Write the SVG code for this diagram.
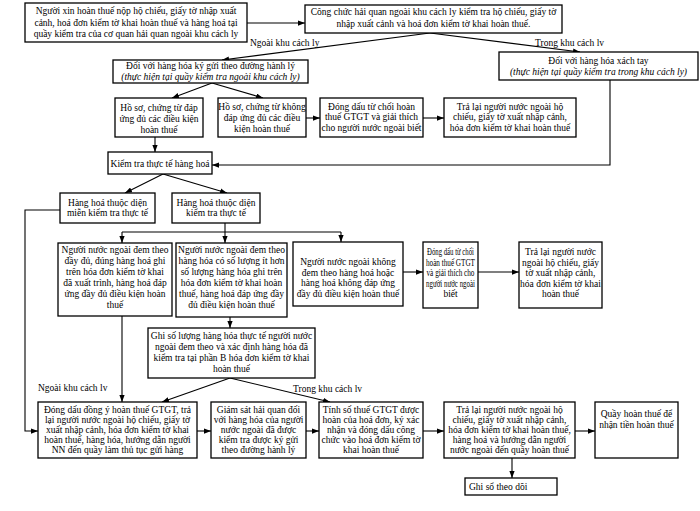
<svg xmlns="http://www.w3.org/2000/svg" width="700" height="511" viewBox="0 0 700 511">
<defs>
<marker id="ah" viewBox="0 0 8 6" refX="8" refY="3" markerWidth="7" markerHeight="5.5" markerUnits="userSpaceOnUse" orient="auto">
<path d="M0,0 L8,3 L0,6 Z" fill="#000"/>
</marker>
<style>
rect{fill:#fff;stroke:#000;stroke-width:1.3}
text{font-family:"Liberation Serif","Times New Roman",serif;font-size:9.5px;fill:#000;text-anchor:middle}
.it{font-style:italic}
.lb{text-anchor:start}
#connectors path{fill:none;stroke:#000;stroke-width:1.1}
.a{marker-end:url(#ah)}
</style>
</defs>
<rect x="0" y="0" width="700" height="511" style="fill:#fff;stroke:none"/>
<g id="connectors">
<path class="a" d="M247,23 L305,23"/>
<path class="a" d="M430,33 L222,60"/>
<path class="a" d="M430,33 L580,52"/>
<path class="a" d="M610,80 L610,165 L212,165"/>
<path class="a" d="M212,83 L172,98"/>
<path class="a" d="M212,83 L263,98"/>
<path class="a" d="M306,118 L320,118"/>
<path class="a" d="M423,118 L444,118"/>
<path class="a" d="M155,137 L155,152"/>
<path class="a" d="M163,174 L125,193"/>
<path class="a" d="M163,174 L227,193"/>
<path class="a" d="M60,210 L25,210 L25,431 L38,431"/>
<path d="M225,223 L225,232 M122,232 L341,232"/>
<path class="a" d="M122,232 L122,243"/>
<path class="a" d="M225,232 L225,243"/>
<path class="a" d="M341,232 L341,242"/>
<path class="a" d="M403,272 L423,272"/>
<path class="a" d="M478,272 L519,272"/>
<path class="a" d="M230,317 L230,328"/>
<path class="a" d="M122,316 L122,402"/>
<path class="a" d="M230,378 L162,402"/>
<path class="a" d="M230,378 L330,402"/>
<path class="a" d="M197,431 L211,431"/>
<path class="a" d="M306,431 L319,431"/>
<path class="a" d="M423,431 L444,431"/>
<path class="a" d="M575,431 L595,431"/>
<path class="a" d="M512,458 L512,478"/>
<text class="lb" x="250" y="46">Ngoài khu cách ly</text>
<text class="lb" x="535" y="46">Trong khu cách lv</text>
<text class="lb" x="38" y="391">Ngoài khu cách lv</text>
<text class="lb" x="293" y="392">Trong khu cách lv</text>
</g>
<g id="n1"><rect x="25" y="3" width="222" height="39"/>
<text x="136"><tspan x="136" y="14">Người xin hoàn thuế nộp hộ chiếu, giấy tờ nhập xuất</tspan><tspan x="136" y="25.5">cảnh, hoá đơn kiểm tờ khai hoàn thuế và hàng hoá tại</tspan><tspan x="136" y="37">quầy kiểm tra  của cơ quan hải quan ngoài khu cách ly</tspan></text></g>
<g id="n2"><rect x="305" y="5" width="257" height="28"/>
<text x="433.5"><tspan x="433.5" y="15">Công chức hải quan ngoài khu cách ly kiểm tra hộ chiếu, giấy tờ</tspan><tspan x="433.5" y="26.5">nhập xuất cảnh và hoá đơn kiểm tờ khai hoàn thuế.</tspan></text></g>
<g id="n3"><rect x="113" y="60" width="195" height="23"/>
<text x="210.5"><tspan x="210.5" y="69">Đối với hàng hóa ký gửi theo đường hành lý</tspan><tspan class="it" x="210.5" y="79.5">(thực hiện tại quầy kiểm tra ngoài khu cách ly)</tspan></text></g>
<g id="n4"><rect x="499" y="52" width="199" height="28"/>
<text x="598.5"><tspan x="598.5" y="63.5">Đối với hàng hóa xách tay</tspan><tspan class="it" x="598.5" y="75">(thực hiện tại quầy kiểm tra trong khu cách ly)</tspan></text></g>
<g id="n5"><rect x="115" y="98" width="88" height="39"/>
<text x="159"><tspan x="159" y="110.5">Hồ sơ, chứng từ đáp</tspan><tspan x="159" y="121.5">ứng đủ các điều kiện</tspan><tspan x="159" y="132.5">hoàn thuế</tspan></text></g>
<g id="n6"><rect x="218" y="98" width="88" height="39"/>
<text x="262"><tspan x="262" y="109.5">Hồ sơ, chứng từ không</tspan><tspan x="262" y="120.5">đáp ứng đủ các điều</tspan><tspan x="262" y="131.5">kiện hoàn thuế</tspan></text></g>
<g id="n7"><rect x="320" y="98" width="103" height="39"/>
<text x="371.5"><tspan x="371.5" y="109.5">Đóng dấu từ chối hoàn</tspan><tspan x="371.5" y="120">thuế GTGT và giải thích</tspan><tspan x="371.5" y="130.5">cho người nước ngoài biết</tspan></text></g>
<g id="n8"><rect x="444" y="98" width="132" height="39"/>
<text x="510"><tspan x="510" y="109.5">Trả lại người nước ngoài hộ</tspan><tspan x="510" y="120">chiếu, giấy tờ xuất nhập cảnh,</tspan><tspan x="510" y="130.5">hóa đơn kiểm tờ khai hoàn thuế</tspan></text></g>
<g id="n9"><rect x="108" y="152" width="104" height="22"/>
<text x="160" y="166.5">Kiểm tra thực tế hàng hoá</text></g>
<g id="n10"><rect x="60" y="193" width="95" height="30"/>
<text x="107.5"><tspan x="107.5" y="205.5">Hàng hoá thuộc diện</tspan><tspan x="107.5" y="216">miễn kiểm tra thực tế</tspan></text></g>
<g id="n11"><rect x="172" y="193" width="88" height="30"/>
<text x="216"><tspan x="216" y="205.5">Hàng hoá thuộc diện</tspan><tspan x="216" y="216">kiểm tra thực tế</tspan></text></g>
<g id="n12"><rect x="58" y="243" width="114" height="73"/>
<text x="115"><tspan x="115" y="253">Người nước ngoài đem theo</tspan><tspan x="115" y="264">đầy đủ, đúng hàng hoá ghi</tspan><tspan x="115" y="275">trên hóa đơn kiểm tờ khai</tspan><tspan x="115" y="286">đã xuất trình, hàng hoá đáp</tspan><tspan x="115" y="297">ứng đầy đủ điều kiện hoàn</tspan><tspan x="115" y="308">thuế</tspan></text></g>
<g id="n13"><rect x="176" y="243" width="111" height="74"/>
<text x="231.5"><tspan x="231.5" y="253">Người nước ngoài đem theo</tspan><tspan x="231.5" y="264">hàng hóa có số lượng ít hơn</tspan><tspan x="231.5" y="275">số lượng hàng hóa ghi trên</tspan><tspan x="231.5" y="286">hóa đơn kiểm tờ khai hoàn</tspan><tspan x="231.5" y="297">thuế, hàng hoá đáp ứng đầy</tspan><tspan x="231.5" y="308">đủ điều kiện hoàn thuế</tspan></text></g>
<g id="n14"><rect x="293" y="242" width="110" height="64"/>
<text x="348"><tspan x="348" y="265">Người nước ngoài không</tspan><tspan x="348" y="275.5">đem theo hàng hoá hoặc</tspan><tspan x="348" y="286">hàng hoá không đáp ứng</tspan><tspan x="348" y="296.5">đầy đủ điều kiện hoàn thuế</tspan></text></g>
<g id="n15"><rect x="423" y="242" width="55" height="66"/>
<text x="450.5"><tspan x="450.5" y="255" textLength="47" lengthAdjust="spacingAndGlyphs">Đóng dấu từ chối</tspan><tspan x="450.5" y="265.5" textLength="49" lengthAdjust="spacingAndGlyphs">hoàn thuế GTGT</tspan><tspan x="450.5" y="276" textLength="48" lengthAdjust="spacingAndGlyphs">và giải thích cho</tspan><tspan x="450.5" y="286.5" textLength="49" lengthAdjust="spacingAndGlyphs">người nước ngoài</tspan><tspan x="450.5" y="297">biết</tspan></text></g>
<g id="n16"><rect x="519" y="242" width="83" height="66"/>
<text x="560.5"><tspan x="560.5" y="255">Trả lại người nước</tspan><tspan x="560.5" y="265.5">ngoài hộ chiếu, giấy</tspan><tspan x="560.5" y="276">tờ xuất nhập cảnh,</tspan><tspan x="560.5" y="286.5">hóa đơn kiểm tờ khai</tspan><tspan x="560.5" y="297">hoàn thuế</tspan></text></g>
<g id="n17"><rect x="148" y="328" width="167" height="50"/>
<text x="231.5"><tspan x="231.5" y="338.5">Ghi số lượng hàng hóa thực tế người nước</tspan><tspan x="231.5" y="349.5">ngoài đem theo và xác định hàng hóa đã</tspan><tspan x="231.5" y="360.5">kiểm tra tại phần B hóa đơn kiểm tờ khai</tspan><tspan x="231.5" y="371.5">hoàn thuế</tspan></text></g>
<g id="n18"><rect x="38" y="402" width="159" height="56"/>
<text x="117.5"><tspan x="117.5" y="413">Đóng dấu đồng ý hoàn thuế GTGT, trả</tspan><tspan x="117.5" y="423">lại người nước ngoài hộ chiếu, giấy tờ</tspan><tspan x="117.5" y="433">xuất nhập cảnh, hóa đơn kiểm tờ khai</tspan><tspan x="117.5" y="443">hoàn thuế, hàng hóa, hướng dẫn người</tspan><tspan x="117.5" y="453">NN đến quầy làm thủ tục gửi hàng</tspan></text></g>
<g id="n19"><rect x="211" y="402" width="95" height="56"/>
<text x="258.5"><tspan x="258.5" y="413">Giám sát hải quan đối</tspan><tspan x="258.5" y="423">với hàng hóa của người</tspan><tspan x="258.5" y="433">nước ngoài đã được</tspan><tspan x="258.5" y="443">kiểm tra được ký gửi</tspan><tspan x="258.5" y="453">theo đường hành lý</tspan></text></g>
<g id="n20"><rect x="319" y="402" width="104" height="56"/>
<text x="371"><tspan x="371" y="413">Tính số thuế GTGT được</tspan><tspan x="371" y="423">hoàn của hoá đơn, ký xác</tspan><tspan x="371" y="433">nhận và đóng dấu công</tspan><tspan x="371" y="443">chức vào hoá đơn kiểm tờ</tspan><tspan x="371" y="453">khai hoàn thuế</tspan></text></g>
<g id="n21"><rect x="444" y="402" width="131" height="56"/>
<text x="509.5"><tspan x="509.5" y="413">Trả lại người nước ngoài hộ</tspan><tspan x="509.5" y="423">chiếu, giấy tờ xuất nhập cảnh,</tspan><tspan x="509.5" y="433">hóa đơn kiểm tờ khai hoàn thuế,</tspan><tspan x="509.5" y="443">hàng hoá và hướng dẫn người</tspan><tspan x="509.5" y="453">nước ngoài đến quầy hoàn thuế</tspan></text></g>
<g id="n22"><rect x="595" y="402" width="83" height="56"/>
<text x="636.5"><tspan x="636.5" y="416.5">Quầy hoàn thuế để</tspan><tspan x="636.5" y="428">nhận tiền hoàn thuế</tspan></text></g>
<g id="n23"><rect x="465" y="478" width="92" height="17"/>
<text class="lb" x="469" y="490">Ghi sổ theo dõi</text></g>
</svg>
